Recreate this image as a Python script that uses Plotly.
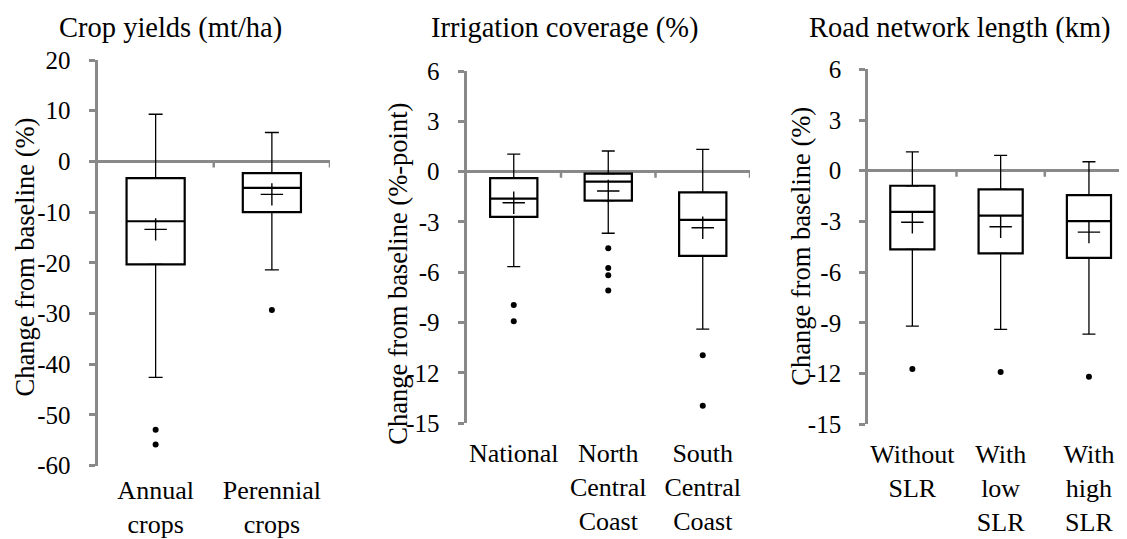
import plotly.graph_objects as go

W, H = 1127, 539
OFF = 8  # page body margin offset compensation (px)

# ---------------- data ----------------
crop_cats = ["Annual<br>crops", "Perennial<br>crops"]
crop_q1 = [-20.3, -10.0]
crop_med = [-11.8, -5.2]
crop_q3 = [-3.3, -2.3]
crop_low = [-42.6, -21.4]
crop_up = [9.3, 5.7]
crop_mean = [-13.4, -6.5]
crop_out_cat = ["Annual<br>crops", "Annual<br>crops", "Perennial<br>crops"]
crop_out_val = [-52.9, -55.8, -29.3]
crop_ticks = [-60, -50, -40, -30, -20, -10, 0, 10, 20]

irr_cats = ["National", "North<br>Central<br>Coast", "South<br>Central<br>Coast"]
irr_q1 = [-2.70, -1.73, -5.02]
irr_med = [-1.61, -0.60, -2.88]
irr_q3 = [-0.39, -0.12, -1.23]
irr_low = [-5.66, -3.67, -9.39]
irr_up = [1.05, 1.23, 1.33]
irr_mean = [-1.85, -1.15, -3.34]
irr_out_cat = ["National", "National",
               "North<br>Central<br>Coast", "North<br>Central<br>Coast",
               "North<br>Central<br>Coast", "North<br>Central<br>Coast",
               "South<br>Central<br>Coast", "South<br>Central<br>Coast"]
irr_out_val = [-7.95, -8.92, -4.57, -5.74, -6.18, -7.09, -10.94, -13.95]

road_cats = ["Without<br>SLR", "With<br>low<br>SLR", "With<br>high<br>SLR"]
road_q1 = [-4.65, -4.89, -5.15]
road_med = [-2.43, -2.66, -2.98]
road_q3 = [-0.89, -1.10, -1.44]
road_low = [-9.19, -9.38, -9.66]
road_up = [1.12, 0.91, 0.53]
road_mean = [-3.05, -3.31, -3.63]
road_out_cat = ["Without<br>SLR", "With<br>low<br>SLR", "With<br>high<br>SLR"]
road_out_val = [-11.73, -11.91, -12.19]

small_ticks = [-15, -12, -9, -6, -3, 0, 3, 6]

panel_titles = ["Crop yields (mt/ha)", "Irrigation coverage (%)", "Road network length (km)"]
axis_titles = ["Change from baseline (%)", "Change from baseline (%-point)", "Change from baseline (%)"]

# ---------------- style ----------------
FONT = "'Liberation Serif', 'Times New Roman', Times, serif"
GRAY = "#898989"


def fx(px):
    return (px - OFF) / W


def fy(py):
    return 1 - (py - OFF) / H


panels = [
    dict(cats=crop_cats, q1=crop_q1, med=crop_med, q3=crop_q3, low=crop_low, up=crop_up,
         mean=crop_mean, oc=crop_out_cat, ov=crop_out_val, ticks=crop_ticks,
         yrange=[-60, 20], xdom=[fx(97.5), fx(330)], ydom=[fy(465.7), fy(60)],
         xrange=[-0.5, 1.5], capw=7, xstand=6),
    dict(cats=irr_cats, q1=irr_q1, med=irr_med, q3=irr_q3, low=irr_low, up=irr_up,
         mean=irr_mean, oc=irr_out_cat, ov=irr_out_val, ticks=small_ticks,
         yrange=[-15, 6], xdom=[fx(466.5), fx(750)], ydom=[fy(423.3), fy(71)],
         xrange=[-0.5, 2.5], capw=6.5, xstand=12),
    dict(cats=road_cats, q1=road_q1, med=road_med, q3=road_q3, low=road_low, up=road_up,
         mean=road_mean, oc=road_out_cat, ov=road_out_val, ticks=small_ticks,
         yrange=[-15, 6], xdom=[fx(868.2), fx(1133.1)], ydom=[fy(424.3), fy(69.3)],
         xrange=[-0.5, 2.5], capw=6.5, xstand=12),
]

fig = go.Figure()
layout = dict(
    template="none",
    width=W, height=H, autosize=False, margin=dict(l=0, r=0, t=0, b=0, pad=0),
    paper_bgcolor="white", plot_bgcolor="white", showlegend=False,
    font=dict(family=FONT, size=26, color="black"),
)
shapes = []
annotations = []

for i, p in enumerate(panels):
    n = i + 1
    xa = "x" if n == 1 else f"x{n}"
    ya = "y" if n == 1 else f"y{n}"
    # boxes (no whiskers, drawn separately with caps)
    fig.add_trace(go.Box(
        x=p["cats"], q1=p["q1"], median=p["med"], q3=p["q3"],
        lowerfence=p["q1"], upperfence=p["q3"], width=0.5,
        fillcolor="white", line=dict(color="black", width=2.2),
        boxpoints=False, hoverinfo="skip", xaxis=xa, yaxis=ya))
    # upper whiskers
    fig.add_trace(go.Scatter(
        x=p["cats"], y=p["q3"], mode="markers",
        marker=dict(size=1, color="rgba(0,0,0,0)"),
        error_y=dict(type="data", symmetric=False,
                     array=[u - q for u, q in zip(p["up"], p["q3"])],
                     arrayminus=[0] * len(p["cats"]),
                     width=p["capw"], thickness=1.3, color="black"),
        hoverinfo="skip", xaxis=xa, yaxis=ya))
    # lower whiskers
    fig.add_trace(go.Scatter(
        x=p["cats"], y=p["q1"], mode="markers",
        marker=dict(size=1, color="rgba(0,0,0,0)"),
        error_y=dict(type="data", symmetric=False,
                     array=[0] * len(p["cats"]),
                     arrayminus=[q - l for q, l in zip(p["q1"], p["low"])],
                     width=p["capw"], thickness=1.3, color="black"),
        hoverinfo="skip", xaxis=xa, yaxis=ya))
    # means
    fig.add_trace(go.Scatter(
        x=p["cats"], y=p["mean"], mode="markers",
        marker=dict(symbol="cross-thin", size=16, color="black",
                    line=dict(color="black", width=1.4)),
        hoverinfo="skip", xaxis=xa, yaxis=ya))
    # outliers
    fig.add_trace(go.Scatter(
        x=p["oc"], y=p["ov"], mode="markers",
        marker=dict(symbol="circle", size=6, color="black", line=dict(width=0)),
        hoverinfo="skip", xaxis=xa, yaxis=ya))

    xkey = "xaxis" if n == 1 else f"xaxis{n}"
    ykey = "yaxis" if n == 1 else f"yaxis{n}"
    layout[xkey] = dict(
        domain=p["xdom"], anchor=ya, type="category", range=p["xrange"],
        categoryorder="array", categoryarray=p["cats"], automargin=False,
        showline=False, showgrid=False, zeroline=False, ticks="",
        tickfont=dict(family=FONT, size=26, color="black"),
        ticklabelstandoff=p["xstand"], fixedrange=True)
    layout[ykey] = dict(
        domain=p["ydom"], anchor=xa, range=p["yrange"], automargin=False,
        tickvals=p["ticks"], ticktext=[str(t) for t in p["ticks"]],
        showline=True, linecolor=GRAY, linewidth=3,
        ticks="outside", ticklen=6, tickwidth=2.5, tickcolor=GRAY,
        showgrid=False, zeroline=True, zerolinecolor=GRAY, zerolinewidth=3,
        tickfont=dict(family=FONT, size=25, color="black"),
        ticklabelstandoff=13, fixedrange=True)

    # category boundary tick marks hanging below the zero line
    for k in range(len(p["cats"])):
        shapes.append(dict(
            type="line", xref=xa, yref=ya, x0=k + 0.5, x1=k + 0.5,
            ysizemode="pixel", yanchor=0, y0=0, y1=-6,
            line=dict(color=GRAY, width=2.5)))

title_x = [170, 564, 960]
axis_title_pos = [(24, 257.5), (398, 273.8), (801, 246.7)]
for i in range(3):
    annotations.append(dict(
        text=panel_titles[i], x=fx(title_x[i]), y=fy(27.6),
        xref="paper", yref="paper", xanchor="center", yanchor="middle",
        showarrow=False, font=dict(family=FONT, size=28.5, color="black")))
    ax, ay = axis_title_pos[i]
    annotations.append(dict(
        text=axis_titles[i], x=fx(ax), y=fy(ay), textangle=-90,
        xref="paper", yref="paper", xanchor="center", yanchor="middle",
        showarrow=False, font=dict(family=FONT, size=26.5, color="black")))

layout["shapes"] = shapes
layout["annotations"] = annotations
fig.update_layout(**layout)

fig.write_html("out.html")
